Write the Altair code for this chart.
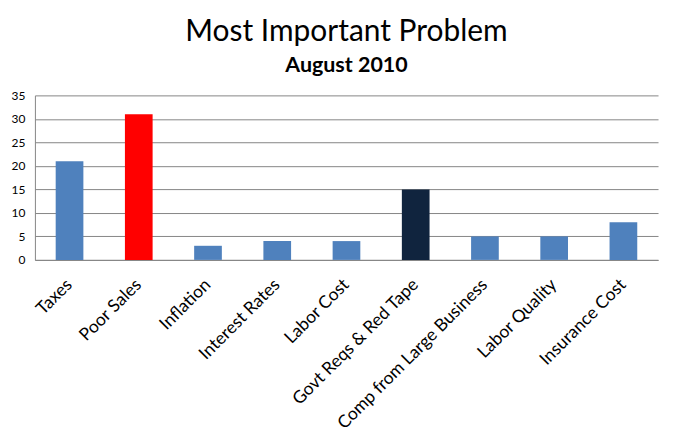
import altair as alt
import pandas as pd

categories = ["Taxes", "Poor Sales", "Inflation", "Interest Rates", "Labor Cost",
              "Govt Reqs & Red Tape", "Comp from Large Business", "Labor Quality", "Insurance Cost"]
values = [21, 31, 3, 4, 4, 15, 5, 5, 8]
colors = ["#4F81BD", "#FF0000", "#4F81BD", "#4F81BD", "#4F81BD",
          "#10243E", "#4F81BD", "#4F81BD", "#4F81BD"]

df = pd.DataFrame({"cat": categories, "val": values, "col": colors})

FONT = "Lato"

chart = alt.Chart(df).mark_bar().encode(
    x=alt.X("cat:N", sort=categories,
            scale=alt.Scale(paddingInner=0.6, paddingOuter=0.3),
            axis=alt.Axis(title=None, labelAngle=-45, labelAlign="right", labelBaseline="middle",
                          labelFontSize=17.5, labelFont=FONT, labelColor="#000000",
                          ticks=False, labelPadding=22, domainColor="#868686", grid=False,
                          labelLimit=400)),
    y=alt.Y("val:Q", scale=alt.Scale(domain=[0, 35]),
            axis=alt.Axis(title=None, values=[0, 5, 10, 15, 20, 25, 30, 35],
                          labelFontSize=12, labelFont=FONT, labelColor="#000000",
                          ticks=False, labelPadding=10, domainColor="#868686",
                          gridColor="#868686", gridWidth=1)),
    color=alt.Color("col:N", scale=None),
).properties(
    width=625, height=165,
    title=alt.TitleParams("Most Important Problem", subtitle="August 2010",
                          font=FONT, fontSize=30, fontWeight="normal", color="#000000",
                          subtitleFont=FONT, subtitleFontSize=21.5, subtitleFontWeight="bold",
                          subtitleColor="#000000", subtitlePadding=8,
                          anchor="middle", frame="group", offset=13),
    autosize=alt.AutoSizeParams(type="none"),
    padding={"left": 27, "top": 87, "right": 8, "bottom": 180},
).configure_view(stroke=None)

chart.save("out.html", embed_options={"renderer": "svg", "actions": False})
